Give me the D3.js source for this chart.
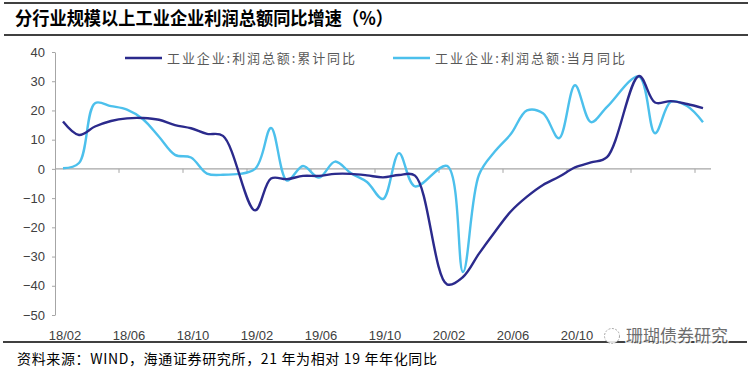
<!DOCTYPE html>
<html>
<head>
<meta charset="utf-8">
<script src="https://cdn.jsdelivr.net/npm/d3@7"></script>
<style>
  html, body { margin: 0; padding: 0; background: #fff; }
  svg { display: block; }
</style>
</head>
<body>
<svg id="chart" width="756" height="370"></svg>
<script>
// ---- data ----
const months = [
  "18/02","18/03","18/04","18/05","18/06","18/07","18/08","18/09","18/10","18/11","18/12",
  "19/01","19/02","19/03","19/04","19/05","19/06","19/07","19/08","19/09","19/10","19/11","19/12",
  "20/01","20/02","20/03","20/04","20/05","20/06","20/07","20/08","20/09","20/10","20/11","20/12",
  "21/01","21/02","21/03","21/04","21/05","21/06"
];
// 工业企业:利润总额:累计同比
const cumulative = [
  16.2, 11.6, 14.5, 16.4, 17.3, 17.4, 16.8, 15.0, 13.9, 12.0, 11.3,
  null, -14.2, -3.3, -3.5, -2.4, -2.4, -1.7, -1.7, -2.2, -2.9, -2.1, -2.3,
  null, -39.5, -37.0, -29.0, -21.5, -14.5, -9.5, -5.5, -2.7, 0.5, 2.2, 4.0,
  null, 31.8, 22.7, 23.2, 22.2, 20.8
];
// 工业企业:利润总额:当月同比
const monthly = [
  0.2, 2.0, 22.5, 21.5, 20.3, 17.0, 11.0, 4.8, 3.9, -1.6, -2.0,
  null, 0.0, 14.0, -4.0, 1.0, -3.0, 2.5, -1.5, -4.5, -10.3, 5.4, -6.0,
  null, 1.0, -35.3, -2.0, 6.0, 12.0, 20.0, 19.0, 10.5, 28.6, 16.0, 21.2,
  null, 31.6, 12.2, 23.0, 21.5, 16.0
];
const seriesNames = ["工业企业:利润总额:累计同比", "工业企业:利润总额:当月同比"];
const yTicks = [40, 30, 20, 10, 0, -10, -20, -30, -40, -50];
const xLabels = ["18/02","18/06","18/10","19/02","19/06","19/10","20/02","20/06","20/10"];
const xTickMonths = ["18/06","18/10","19/02","19/06","19/10","20/02","20/06","20/10","21/02","21/06"];
const titleText = "分行业规模以上工业企业利润总额同比增速（%）";
const sourceText = "资料来源：WIND，海通证券研究所，21 年为相对 19 年年化同比";
const watermarkText = "珊瑚债券研究";

// ---- drawing ----
const svg = d3.select("#chart");
const darkColor = "#2B2A8C";
const lightColor = "#4CC0EC";
const axisColor = "#A6A6A6";
const labelFont = "'Liberation Sans', Arial, sans-serif";
const cjkFont = "'Noto Sans CJK SC', 'Noto Sans', sans-serif";

const x = d3.scaleBand().domain(months).range([55, 711]).padding(0);
const y = d3.scaleLinear().domain([-50, 40]).range([315, 52]);
const cx = m => x(m) + x.bandwidth() / 2;

// frame lines
svg.append("line").attr("x1", 4).attr("x2", 748).attr("y1", 3).attr("y2", 3)
  .attr("stroke", "#000").attr("stroke-width", 1.3);
svg.append("line").attr("x1", 4).attr("x2", 748).attr("y1", 35).attr("y2", 35)
  .attr("stroke", "#000").attr("stroke-width", 1.3);
svg.append("line").attr("x1", 3).attr("x2", 747).attr("y1", 342).attr("y2", 342)
  .attr("stroke", "#000").attr("stroke-width", 1.3);

// title
svg.append("text").attr("x", 15).attr("y", 25)
  .attr("font-family", cjkFont).attr("font-weight", 700).attr("font-size", 18.5)
  .attr("fill", "#000").attr("textLength", 378).attr("lengthAdjust", "spacingAndGlyphs")
  .text(titleText);

// y axis
const yAxis = d3.axisLeft(y).tickValues(yTicks).tickSize(3).tickSizeOuter(0).tickPadding(7);
const gy = svg.append("g").attr("transform", "translate(55,0)").call(yAxis);
gy.select(".domain").attr("stroke", axisColor);
gy.selectAll(".tick line").attr("stroke", axisColor);
gy.selectAll(".tick text").attr("font-family", labelFont).attr("font-size", 13).attr("fill", "#404040");

// x axis at zero
svg.append("line").attr("x1", x.range()[0]).attr("x2", x.range()[1])
  .attr("y1", y(0)).attr("y2", y(0)).attr("stroke", axisColor).attr("stroke-width", 1.2);
svg.selectAll(".xtick").data(xTickMonths).enter().append("line")
  .attr("x1", d => x(d)).attr("x2", d => x(d))
  .attr("y1", y(0)).attr("y2", y(0) + 4)
  .attr("stroke", axisColor);

// x labels
svg.selectAll(".xlab").data(xLabels).enter().append("text")
  .attr("x", d => cx(d) + 2).attr("y", 340)
  .attr("text-anchor", "middle")
  .attr("font-family", labelFont).attr("font-size", 13).attr("fill", "#404040")
  .text(d => d);

// lines
const line = d3.line()
  .x(d => cx(d.m)).y(d => y(d.v))
  .curve(d3.curveCatmullRom.alpha(0.5));
const toPts = arr => months.map((m, i) => ({ m, v: arr[i] })).filter(d => d.v !== null);

svg.append("path").datum(toPts(monthly))
  .attr("d", line).attr("fill", "none")
  .attr("stroke", lightColor).attr("stroke-width", 2.4).attr("stroke-linejoin", "round");
svg.append("path").datum(toPts(cumulative))
  .attr("d", line).attr("fill", "none")
  .attr("stroke", darkColor).attr("stroke-width", 2.4).attr("stroke-linejoin", "round");

// legend
const legend = [
  { name: seriesNames[0], color: darkColor, x: 125, tx: 167, w: 188 },
  { name: seriesNames[1], color: lightColor, x: 393, tx: 435, w: 190 }
];
legend.forEach(l => {
  svg.append("line").attr("x1", l.x).attr("x2", l.x + 37).attr("y1", 58).attr("y2", 58)
    .attr("stroke", l.color).attr("stroke-width", 2.4);
  svg.append("text").attr("x", l.tx).attr("y", 63)
    .attr("font-family", cjkFont).attr("font-size", 13).attr("fill", "#595959")
    .attr("textLength", l.w).attr("lengthAdjust", "spacing")
    .text(l.name);
});

// source
svg.append("text").attr("x", 17).attr("y", 364)
  .attr("font-family", cjkFont).attr("font-size", 14).attr("fill", "#000")
  .attr("textLength", 420).attr("lengthAdjust", "spacing")
  .text(sourceText);

// watermark
const wm = svg.append("g").attr("opacity", 0.85);
wm.append("circle").attr("cx", 612).attr("cy", 336).attr("r", 7.5)
  .attr("fill", "#fff").attr("stroke", "#999").attr("stroke-width", 1).attr("stroke-dasharray", "2,1.5");
wm.append("text").attr("x", 626).attr("y", 342)
  .attr("font-family", cjkFont).attr("font-size", 17).attr("fill", "#555")
  .attr("stroke", "#fff").attr("stroke-width", 3).attr("paint-order", "stroke")
  .attr("textLength", 102).attr("lengthAdjust", "spacingAndGlyphs")
  .text(watermarkText);
</script>
</body>
</html>
